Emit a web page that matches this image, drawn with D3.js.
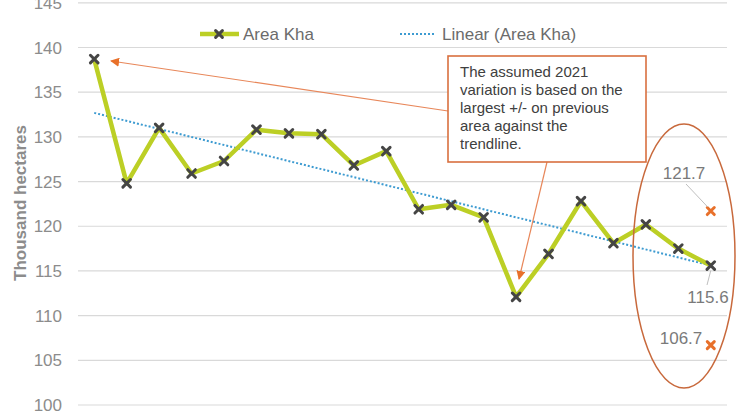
<!DOCTYPE html>
<html>
<head>
<meta charset="utf-8">
<script src="https://cdn.jsdelivr.net/npm/d3@7"></script>
<style>
html,body{margin:0;padding:0;background:#fff;overflow:hidden;}
svg{display:block;font-family:Arial,"Liberation Sans",sans-serif;}
</style>
</head>
<body>
<svg id="chart" width="748" height="420"></svg>
<script>
const years = d3.range(2001, 2021).map(String);
const areaKha = [138.7,124.8,131.0,125.9,127.3,130.8,130.4,130.3,126.8,128.4,121.9,122.4,121.0,112.1,116.9,122.8,118.1,120.2,117.5,115.6];
const variation2021 = [121.7, 106.7];
const yTicks = [100,105,110,115,120,125,130,135,140,145];
const seriesNames = ["Area Kha", "Linear (Area Kha)"];
const noteLines = ["The assumed 2021","variation is based on the","largest +/- on previous","area against the","trendline."];
const lastLabel = "115.6";

const svg = d3.select("#chart");
const x = d3.scaleBand().domain(years).range([78, 727]);
const y = d3.scaleLinear().domain([100, 145]).range([405, 2.8]);
const cx = d => x(d) + x.bandwidth()/2;

// gridlines
svg.append("g").selectAll("line").data(yTicks).join("line")
  .attr("x1", 78).attr("x2", 727)
  .attr("y1", d => y(d)).attr("y2", d => y(d))
  .attr("stroke", "#d9d9d9").attr("stroke-width", 1.2);

// y tick labels
svg.append("g").selectAll("text").data(yTicks).join("text")
  .attr("x", 62).attr("y", d => y(d)).attr("dy", "0.36em")
  .attr("text-anchor", "end").attr("font-size", 17).attr("fill", "#8c8c8c")
  .text(d => d);

// y title
svg.append("text")
  .attr("transform", "translate(26,203) rotate(-90)")
  .attr("text-anchor", "middle").attr("font-size", 17).attr("font-weight", "bold")
  .attr("fill", "#8c8c8c").text("Thousand hectares");

// trendline (least squares of the series)
const n = areaKha.length;
const xi = d3.range(n);
const mx = d3.mean(xi), my = d3.mean(areaKha);
const slope = d3.sum(xi, i => (i-mx)*(areaKha[i]-my)) / d3.sum(xi, i => (i-mx)*(i-mx));
const icpt = my - slope*mx;
svg.append("line")
  .attr("x1", cx(years[0])).attr("y1", y(icpt))
  .attr("x2", cx(years[n-1])).attr("y2", y(icpt + slope*(n-1)))
  .attr("stroke", "#3d9bd1").attr("stroke-width", 2).attr("stroke-dasharray", "2,2");

// main line
const data = years.map((yr,i) => ({yr, v: areaKha[i]}));
svg.append("path").datum(data)
  .attr("d", d3.line().x(d => cx(d.yr)).y(d => y(d.v)))
  .attr("fill", "none").attr("stroke", "#bccf25").attr("stroke-width", 4.5).attr("stroke-linejoin", "round");

function xMark(g, px, py, color, s) {
  g.append("path")
    .attr("d", `M${px-s},${py-s}L${px+s},${py+s}M${px-s},${py+s}L${px+s},${py-s}`)
    .attr("stroke", color).attr("stroke-width", 3).attr("stroke-linecap", "round");
}
const mk = svg.append("g");
data.forEach(d => xMark(mk, cx(d.yr), y(d.v), "#454545", 3.8));

// orange 2021 markers
const lastX = cx(years[n-1]);
variation2021.forEach(v => xMark(mk, lastX, y(v), "#e8702a", 3.5));

// data labels
const lab = svg.append("g").attr("font-size", 17).attr("fill", "#7a7a7a").attr("text-anchor", "middle");
lab.append("text").attr("x", 684).attr("y", 173).attr("dy", "0.36em").text(variation2021[0].toFixed(1));
lab.append("text").attr("x", 708).attr("y", 297).attr("dy", "0.36em").text(lastLabel);
lab.append("text").attr("x", 681).attr("y", 338).attr("dy", "0.36em").text(variation2021[1].toFixed(1));
svg.append("line").attr("x1", 686).attr("y1", 184).attr("x2", lastX-3).attr("y2", y(variation2021[0])-4)
  .attr("stroke", "#bfbfbf").attr("stroke-width", 1);
svg.append("line").attr("x1", lastX).attr("y1", y(areaKha[n-1])+5).attr("x2", 707).attr("y2", 285)
  .attr("stroke", "#bfbfbf").attr("stroke-width", 1);

// ellipse
svg.append("ellipse").attr("cx", 684).attr("cy", 256).attr("rx", 51).attr("ry", 132)
  .attr("fill", "none").attr("stroke", "#c8693c").attr("stroke-width", 1.5);

// legend
const lg = svg.append("g");
lg.append("line").attr("x1", 200).attr("x2", 239).attr("y1", 34).attr("y2", 34)
  .attr("stroke", "#bccf25").attr("stroke-width", 4.5);
xMark(lg, 219, 34, "#454545", 3.4);
lg.append("text").attr("x", 243).attr("y", 34).attr("dy", "0.36em").attr("font-size", 17)
  .attr("fill", "#6b6b6b").text(seriesNames[0]);
lg.append("line").attr("x1", 400).attr("x2", 436).attr("y1", 34).attr("y2", 34)
  .attr("stroke", "#3d9bd1").attr("stroke-width", 2).attr("stroke-dasharray", "2,2");
lg.append("text").attr("x", 442).attr("y", 34).attr("dy", "0.36em").attr("font-size", 17)
  .attr("fill", "#6b6b6b").text(seriesNames[1]);

// arrows
const defs = svg.append("defs");
defs.append("marker").attr("id", "ah").attr("viewBox", "0 0 10 10").attr("refX", 9).attr("refY", 5)
  .attr("markerWidth", 9).attr("markerHeight", 9).attr("markerUnits", "userSpaceOnUse").attr("orient", "auto")
  .append("path").attr("d", "M0,0L10,5L0,10Z").attr("fill", "#e8702a");
svg.append("line").attr("x1", 448).attr("y1", 111).attr("x2", 111).attr("y2", 61)
  .attr("stroke", "#e8875a").attr("stroke-width", 1.2).attr("marker-end", "url(#ah)");
svg.append("line").attr("x1", 547).attr("y1", 162).attr("x2", 519).attr("y2", 279)
  .attr("stroke", "#e8875a").attr("stroke-width", 1.2).attr("marker-end", "url(#ah)");

// annotation box
svg.append("rect").attr("x", 448).attr("y", 56).attr("width", 198).attr("height", 106)
  .attr("fill", "#fff").attr("stroke", "#d9703f").attr("stroke-width", 1.6);
svg.append("g").selectAll("text").data(noteLines).join("text")
  .attr("x", 460).attr("y", (d,i) => 72 + i*17.9).attr("dy", "0.36em")
  .attr("font-size", 15).attr("fill", "#404040").text(d => d);
</script>
</body>
</html>
